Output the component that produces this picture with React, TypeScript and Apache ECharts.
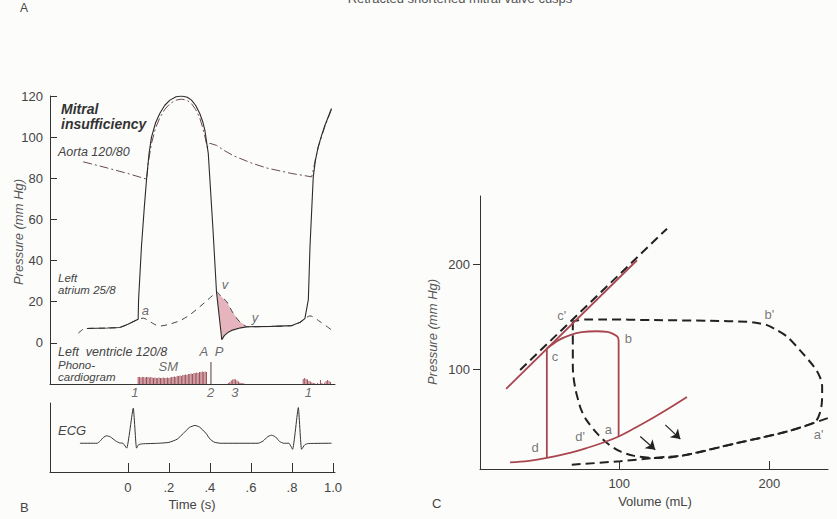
import React, { useEffect, useRef } from "react";
import * as echarts from "echarts";

// ---------- Panel B: pressure tracings (time s, mm Hg) ----------
const timeTicks = [0, 0.2, 0.4, 0.6, 0.8, 1.0];
const timeTickLabels = ["0", ".2", ".4", ".6", ".8", "1.0"];

const lvPressure: number[][] = [
  [-0.2, 7], [-0.15, 7.1], [-0.1, 7.2], [-0.04, 7.5], [0.0, 9], [0.05, 11.5],
  [0.052, 21], [0.066, 46.7], [0.08, 66], [0.091, 79.6], [0.103, 92], [0.115, 100],
  [0.135, 107], [0.156, 111.6], [0.18, 115.5], [0.205, 118], [0.235, 119.6], [0.262, 120],
  [0.29, 119.4], [0.31, 118], [0.33, 115.5], [0.35, 111.6], [0.365, 107.5], [0.376, 103],
  [0.392, 92], [0.415, 55], [0.432, 24.8], [0.458, 1.5], [0.47, 3.5], [0.49, 5.2],
  [0.51, 6.2], [0.55, 7.3], [0.585, 7.8], [0.7, 8], [0.8, 8.4], [0.84, 10],
  [0.863, 11.8], [0.88, 21], [0.888, 46.7], [0.904, 80.7], [0.915, 89], [0.928, 95.3],
  [0.945, 101], [0.961, 105.8], [0.993, 113.9],
];
const aortaPressure: number[][] = [
  [-0.218, 88], [-0.1, 85], [0, 82.3], [0.091, 79.6], [0.1, 88], [0.115, 97],
  [0.135, 104.5], [0.156, 109.5], [0.18, 113.5], [0.205, 116.3], [0.235, 118], [0.262, 118.5],
  [0.29, 117.8], [0.31, 116.3], [0.33, 113.5], [0.35, 109.5], [0.365, 104.5], [0.376, 100],
  [0.387, 95], [0.4, 97], [0.432, 96], [0.47, 93.5], [0.514, 91], [0.6, 87.5],
  [0.677, 85], [0.8, 82.3], [0.896, 80.7], [0.904, 84], [0.915, 89.5], [0.928, 95],
  [0.945, 100.5], [0.961, 105.3], [0.993, 113.5],
];
const laPressure: number[][] = [
  [-0.242, 4.7], [-0.22, 6.5], [-0.2, 7.0], [-0.1, 7.2], [-0.04, 7.5], [0, 9],
  [0.05, 11.5], [0.075, 12], [0.1, 10.8], [0.13, 9], [0.156, 8.2], [0.2, 9],
  [0.254, 10.8], [0.3, 13.5], [0.351, 17.6], [0.39, 21], [0.416, 23.3], [0.432, 24.8],
  [0.455, 22.5], [0.483, 19.9], [0.512, 14.6], [0.546, 10.2], [0.585, 7.8], [0.7, 8],
  [0.8, 8.4], [0.84, 10], [0.863, 11.8], [0.888, 13.1], [0.937, 10.3], [0.993, 6.3],
];
// regurgitant area: LA (upper edge) and LV (lower edge)
const regurgTop: number[][] = [
  [0.432, 24.8], [0.455, 22.5], [0.483, 19.9], [0.512, 14.6], [0.546, 10.2], [0.585, 7.8],
];
const regurgBottom: number[][] = [
  [0.432, 24.8], [0.458, 1.5], [0.47, 3.5], [0.49, 5.2], [0.51, 6.2], [0.55, 7.3], [0.585, 7.8],
];

// Phonocardiogram (time s, amplitude in px-like units)
const smStart = 0.05;
const smStep = 0.0068;
const smHeights = [
  7, 7, 6.5, 7, 7, 6.5, 7, 7, 6.5, 7, 6.5, 6, 6.5, 6, 6, 6.5, 6, 6, 6.5, 6, 6, 6.5, 6, 6.5, 7,
  7, 7.5, 7, 8, 8, 8.5, 8, 9, 9, 9.5, 9, 10, 10, 10.5, 10, 11, 11, 11.5, 11, 12, 12, 12.5, 12, 12.5, 12,
];
const phonoOther: number[][] = [
  [0.405, 22],
  [0.49, 1], [0.497, 2], [0.504, 3.5], [0.511, 4.5], [0.518, 5], [0.525, 4.5], [0.532, 3.5],
  [0.539, 2.5], [0.546, 1.5], [0.553, 1], [0.56, 0.8], [0.567, 0.5],
  [0.855, 5], [0.862, 6], [0.869, 5], [0.876, 4.5], [0.883, 3], [0.89, 2.5], [0.897, 1.5],
  [0.904, 1], [0.911, 0.8], [0.925, 1], [0.939, 4], [0.946, 1], [0.96, 1.5], [0.967, 3],
  [0.974, 4], [0.981, 3], [0.988, 2],
];

// ECG (time s, mV)
const ecg: number[][] = [
  [-0.234, 0], [-0.15, 0], [-0.135, 0.08], [-0.12, 0.2], [-0.104, 0.26], [-0.085, 0.22],
  [-0.06, 0.08], [-0.04, 0.01], [-0.024, 0], [-0.006, -0.17], [0.026, 1.22], [0.042, -0.17],
  [0.052, -0.05], [0.07, -0.02], [0.15, 0], [0.2, 0.03], [0.24, 0.14], [0.27, 0.34],
  [0.3, 0.55], [0.327, 0.62], [0.35, 0.56], [0.38, 0.35], [0.4, 0.15], [0.42, 0.04],
  [0.45, 0], [0.635, 0], [0.66, 0.08], [0.68, 0.22], [0.7, 0.28], [0.72, 0.22],
  [0.74, 0.06], [0.76, 0], [0.785, 0], [0.803, -0.21], [0.831, 1.24], [0.847, -0.21],
  [0.863, -0.05], [0.88, -0.01], [0.993, 0],
];

const waveLabels: [string, number, number][] = [
  ["a", 0.085, 15.5], ["v", 0.473, 28.6], ["y", 0.62, 12.1],
  ["A", 0.37, -4.4], ["P", 0.445, -4.4], ["SM", 0.197, -11.5],
];
const soundLabels: [string, number, number][] = [
  ["1", 0.034, -24.3], ["2", 0.403, -24.3], ["3", 0.522, -24.3], ["1", 0.88, -24.3],
];

// ---------- Panel C: pressure-volume loops (mL, mm Hg) ----------
const volumeTicks = [100, 200];
const pvPressureTicks = [100, 200];
const espvrNormal: number[][] = [[24.7, 81.3], [111.8, 203.8]];
const espvrMR: number[][] = [[34, 99.3], [131.8, 233.9]];
const edpvrNormal: number[][] = [
  [27.3, 11.3], [40, 12.8], [51.8, 15.5], [65, 19.6], [78.4, 25], [89, 30],
  [99.6, 36], [111, 44.5], [122.9, 54], [134, 63.5], [145.1, 73.5],
];
const normalContraction: number[][] = [[51.8, 15.5], [51.8, 119.9]];
const normalEjection: number[][] = [
  [51.8, 119.9], [60, 128], [67.3, 132.5], [75, 135.3], [85.1, 136.2], [92, 135.5],
  [96.2, 133.5], [98.8, 131], [99.6, 127.8],
];
const normalRelaxation: number[][] = [[99.6, 127.8], [99.6, 36]];
const mrLoop: number[][] = [
  [69.1, 145.5], [69.1, 102.5], [69.6, 92], [71, 80], [72.8, 70], [74.5, 62], [78, 52],
  [85.1, 39.2], [92, 29.5], [100.7, 21.7], [110, 17.5], [122.9, 15.5], [135, 16.3],
  [145.1, 18.6], [160, 23.5], [178.4, 29.7], [195, 35], [211.8, 40.7], [224, 46],
  [230.7, 50.2], [233.5, 58], [235, 70], [235.1, 83.5], [233.5, 93], [229.6, 102.5],
  [221, 117], [211.8, 131], [204, 138], [198.4, 142], [190, 144.5], [185.1, 145.2],
  [160, 146.2], [122.9, 146.8], [90, 147.5], [78.4, 147.5], [72, 146.5], [69.1, 145.5],
];
const edpvrMR: number[][] = [
  [68.4, 9.1], [100.7, 12.4], [122.9, 15.5], [145.1, 18.6], [178.4, 29.7],
  [211.8, 40.7], [238.9, 53.5],
];
const shiftArrows: number[][][] = [
  [[114, 36], [124, 23.4]],
  [[130.7, 47], [140.7, 33.5]],
];
const pvLabels: [string, number, number][] = [
  ["c'", 61.8, 151.6], ["b'", 200, 152.5], ["b", 106, 129.7], ["c", 57.3, 111.7],
  ["a", 92.7, 42.4], ["d'", 74, 35.7], ["d", 44, 25.3], ["a'", 232.7, 37.6],
];

const FONT = "'Liberation Sans', Arial, Helvetica, sans-serif";
const RED = "#a8464f";
const INK = "#333";

export default function App() {
  const ref = useRef<HTMLDivElement>(null);

  useEffect(() => {
    if (!ref.current) return;
    const chart = echarts.init(ref.current, undefined, { renderer: "svg" });

    const labelScatter = (items: [string, number, number][], idx: number, opts: any = {}) => ({
      type: "scatter",
      xAxisIndex: idx,
      yAxisIndex: idx,
      symbolSize: 1,
      clip: false,
      silent: true,
      itemStyle: { color: "rgba(0,0,0,0)" },
      label: {
        show: true,
        position: "inside",
        formatter: (p: any) => p.name,
        color: "#444",
        fontSize: 13,
        fontFamily: FONT,
        ...opts,
      },
      data: items.map(([n, x, y]) => ({ name: n, value: [x, y] })),
    });

    const phonoData: number[][] = [
      ...smHeights.map((h, i) => [smStart + i * smStep, h]),
      ...phonoOther,
    ];

    const text = (t: string, x: number, y: number, extra: any = {}) => ({
      type: "text",
      x,
      y,
      silent: true,
      style: {
        text: t,
        fill: "#444",
        font: `13px ${FONT}`,
        verticalAlign: "middle",
        ...extra,
      },
    });

    const axisLine = { show: true, onZero: false, lineStyle: { color: INK, width: 1 } };

    const option: any = {
      animation: false,
      backgroundColor: "#fcfcfb",
      grid: [
        { left: 50, width: 285, top: 96, height: 288 },
        { left: 50, width: 285, top: 354, height: 30 },
        { left: 50, width: 285, top: 403, height: 69 },
        { left: 480, width: 348, top: 196, height: 273 },
      ],
      xAxis: [
        {
          gridIndex: 0, type: "value", min: -0.38, max: 1.01,
          axisLine, axisTick: { show: false }, axisLabel: { show: false }, splitLine: { show: false },
        },
        { gridIndex: 1, type: "value", min: -0.38, max: 1.01, show: false },
        {
          gridIndex: 2, type: "value", min: -0.38, max: 1.01,
          axisLine,
          axisTick: { show: true, inside: true, length: 9, customValues: timeTicks, lineStyle: { color: INK } },
          axisLabel: {
            show: true, customValues: timeTicks, margin: 9, color: "#444", fontSize: 13, fontFamily: FONT,
            formatter: (v: number) => {
              const i = timeTicks.findIndex((t) => Math.abs(t - v) < 1e-6);
              return i >= 0 ? timeTickLabels[i] : "";
            },
          },
          splitLine: { show: false },
        },
        {
          gridIndex: 3, type: "value", min: 7.3, max: 239,
          axisLine,
          axisTick: { show: true, inside: true, length: 8, customValues: volumeTicks, lineStyle: { color: INK } },
          axisLabel: { show: true, customValues: volumeTicks, margin: 8, color: "#444", fontSize: 13, fontFamily: FONT },
          splitLine: { show: false },
        },
      ],
      yAxis: [
        {
          gridIndex: 0, type: "value", min: -20, max: 120, interval: 20,
          axisLine,
          axisTick: { show: true, inside: true, length: 7, lineStyle: { color: INK } },
          axisLabel: {
            show: true, margin: 7, color: "#444", fontSize: 13, fontFamily: FONT,
            formatter: (v: number) => (v < 0 ? "" : String(v)),
          },
          splitLine: { show: false },
        },
        { gridIndex: 1, type: "value", min: 0, max: 30, show: false },
        {
          gridIndex: 2, type: "value", min: -1, max: 1.4,
          axisLine, axisTick: { show: false }, axisLabel: { show: false }, splitLine: { show: false },
        },
        {
          gridIndex: 3, type: "value", min: 5, max: 265,
          axisLine,
          axisTick: { show: true, inside: false, length: 7, customValues: pvPressureTicks, lineStyle: { color: INK } },
          axisLabel: { show: true, customValues: pvPressureTicks, margin: 10, color: "#444", fontSize: 13, fontFamily: FONT },
          splitLine: { show: false },
        },
      ],
      series: [
        // regurgitant area fill
        {
          type: "custom",
          xAxisIndex: 0,
          yAxisIndex: 0,
          silent: true,
          data: [[0, 0]],
          renderItem: (_p: any, api: any) => {
            const pts = [
              ...regurgTop.map((d) => api.coord(d)),
              ...regurgBottom.slice().reverse().map((d) => api.coord(d)),
            ];
            return {
              type: "polygon",
              shape: { points: pts },
              style: { fill: "#e6b4bc", stroke: "none" },
            };
          },
        },
        {
          type: "line", xAxisIndex: 0, yAxisIndex: 0, data: aortaPressure, symbol: "none",
          lineStyle: { color: "#6a4a50", width: 1, type: [9, 3, 2, 3] },
        },
        {
          type: "line", xAxisIndex: 0, yAxisIndex: 0, data: laPressure, symbol: "none", smooth: 0.3,
          lineStyle: { color: "#444", width: 1, type: [6, 5] },
        },
        {
          type: "line", xAxisIndex: 0, yAxisIndex: 0, data: lvPressure, symbol: "none",
          lineStyle: { color: "#2e2a2b", width: 1.1 },
        },
        // phonocardiogram
        {
          type: "custom",
          xAxisIndex: 1,
          yAxisIndex: 1,
          silent: true,
          data: phonoData,
          renderItem: (_p: any, api: any) => {
            const t = api.value(0);
            const h = api.value(1);
            const a = api.coord([t, 0]);
            const b = api.coord([t, h]);
            return {
              type: "line",
              shape: { x1: a[0], y1: a[1], x2: b[0], y2: b[1] },
              style: { stroke: h > 15 ? "#5a3a3e" : "#a2505a", lineWidth: 1 },
            };
          },
        },
        // ECG
        {
          type: "line", xAxisIndex: 2, yAxisIndex: 2, data: ecg, symbol: "none", smooth: 0.15,
          lineStyle: { color: "#333", width: 1 },
        },
        labelScatter(waveLabels, 0, { fontStyle: "italic", fontSize: 13 }),
        labelScatter(soundLabels, 0, { fontStyle: "italic", fontSize: 13 }),

        // PV loops
        {
          type: "line", xAxisIndex: 3, yAxisIndex: 3, data: espvrMR, symbol: "none",
          lineStyle: { color: "#222", width: 2, type: [9, 5] },
        },
        {
          type: "line", xAxisIndex: 3, yAxisIndex: 3, data: mrLoop, symbol: "none", smooth: 0.3,
          lineStyle: { color: "#222", width: 2, type: [9, 5] },
        },
        {
          type: "line", xAxisIndex: 3, yAxisIndex: 3, data: edpvrMR, symbol: "none", smooth: 0.3,
          lineStyle: { color: "#222", width: 2, type: [9, 5] },
        },
        {
          type: "line", xAxisIndex: 3, yAxisIndex: 3, data: espvrNormal, symbol: "none",
          lineStyle: { color: RED, width: 1.8 },
        },
        {
          type: "line", xAxisIndex: 3, yAxisIndex: 3, data: edpvrNormal, symbol: "none", smooth: 0.4,
          lineStyle: { color: RED, width: 1.8 },
        },
        {
          type: "line", xAxisIndex: 3, yAxisIndex: 3, data: normalContraction, symbol: "none",
          lineStyle: { color: RED, width: 1.8 },
        },
        {
          type: "line", xAxisIndex: 3, yAxisIndex: 3, data: normalEjection, symbol: "none", smooth: 0.3,
          lineStyle: { color: RED, width: 1.8 },
        },
        {
          type: "line", xAxisIndex: 3, yAxisIndex: 3, data: normalRelaxation, symbol: "none",
          lineStyle: { color: RED, width: 1.8 },
        },
        {
          type: "lines",
          coordinateSystem: "cartesian2d",
          xAxisIndex: 3,
          yAxisIndex: 3,
          symbol: ["none", "arrow"],
          symbolSize: 9,
          silent: true,
          lineStyle: { color: "#222", width: 1.2, opacity: 1 },
          data: shiftArrows.map((c) => ({ coords: c })),
        },
        labelScatter(pvLabels, 3, { fontSize: 13, color: "#555" }),
      ],
      graphic: [
        text("A", 20, 8, { font: `12px ${FONT}` }),
        text("Retracted shortened mitral valve cusps", 460, 5, {
          align: "center", verticalAlign: "bottom", fill: "#555", font: `13px ${FONT}`,
        }),
        text("Mitral", 61, 109, { fill: "#333", font: `italic bold 14px ${FONT}` }),
        text("insufficiency", 61, 124, { fill: "#333", font: `italic bold 14px ${FONT}` }),
        text("Aorta 120/80", 58, 152, { font: `italic 12.5px ${FONT}` }),
        text("Left", 58, 277.5, { font: `italic 11.5px ${FONT}` }),
        text("atrium 25/8", 58, 290, { font: `italic 11.5px ${FONT}` }),
        text("Left  ventricle 120/8", 58, 351.5, { font: `italic 12.5px ${FONT}` }),
        text("Phono-", 58, 364.5, { font: `italic 11.5px ${FONT}` }),
        text("cardiogram", 58, 377, { font: `italic 11.5px ${FONT}` }),
        text("ECG", 58, 430, { font: `italic 13px ${FONT}` }),
        text("Time (s)", 192, 504, { align: "center" }),
        text("B", 20, 507),
        {
          type: "text",
          x: 18,
          y: 232,
          rotation: Math.PI / 2,
          silent: true,
          style: {
            text: "Pressure (mm Hg)", fill: "#555", font: `italic 13px ${FONT}`,
            align: "center", verticalAlign: "middle",
          },
        },
        {
          type: "text",
          x: 432,
          y: 332,
          rotation: Math.PI / 2,
          silent: true,
          style: {
            text: "Pressure (mm Hg)", fill: "#555", font: `italic 13px ${FONT}`,
            align: "center", verticalAlign: "middle",
          },
        },
        text("Volume (mL)", 655, 501, { align: "center" }),
        text("C", 432, 503),
      ],
    };

    chart.setOption(option);
    return () => chart.dispose();
  }, []);

  return (
    <div
      ref={ref}
      style={{ position: "fixed", left: 0, top: 0, width: 837, height: 519 }}
    />
  );
}
